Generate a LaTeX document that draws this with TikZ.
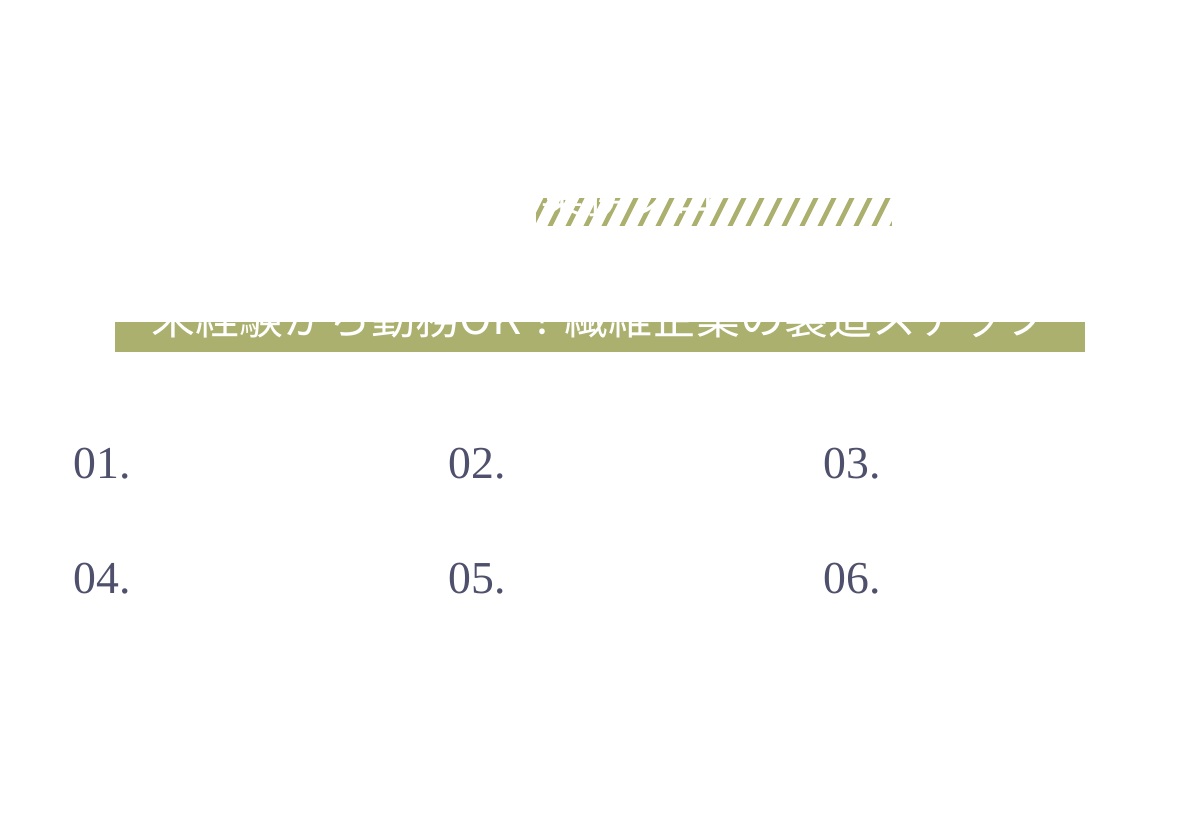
\documentclass[tikz,border=0pt]{standalone}
\usepackage{fontspec}
\setmainfont{Liberation Serif}
\newfontfamily\cjk{Noto Sans CJK JP}
\definecolor{band_green}{RGB}{171,176,110}
\definecolor{num_slate}{RGB}{78,80,108}
\begin{document}
\begin{tikzpicture}[x=0.01cm,y=-0.01cm]
    \tikzstyle{num}=[anchor=base west,inner sep=0,text=num_slate,font=\fontsize{13}{13}\selectfont]
    \tikzstyle{title}=[inner sep=0,text=white,font=\cjk\fontsize{12.5}{13}\selectfont]
    \useasboundingbox (0,0) rectangle (1200,833);

    % striped label
    \begin{scope}
      \clip (536,198) rectangle (892,226);
      \fill[band_green] (536,198) rectangle (892,226);
      \foreach \i in {0,...,24} {
        \draw[white,line width=3.2pt] (520+\i*18,232) -- (540+\i*18,192);
      }
      \node[title,anchor=south west] (sub) at (540,218) {業務フロー};
    \end{scope}

    % heading band
    \fill[band_green] (115,322) rectangle (1085,352);
    \begin{scope}
      \clip (100,320) rectangle (1100,352);
      \node[title,anchor=base] (head) at (600,334) {未経験から勤務OK！繊維企業の製造ステップ};
    \end{scope}

    % step numbers
    \node[num] (s1) at (73,478) {01.};
    \node[num] (s2) at (448,478) {02.};
    \node[num] (s3) at (823,478) {03.};
    \node[num] (s4) at (73,593) {04.};
    \node[num] (s5) at (448,593) {05.};
    \node[num] (s6) at (823,593) {06.};
\end{tikzpicture}
\end{document}
